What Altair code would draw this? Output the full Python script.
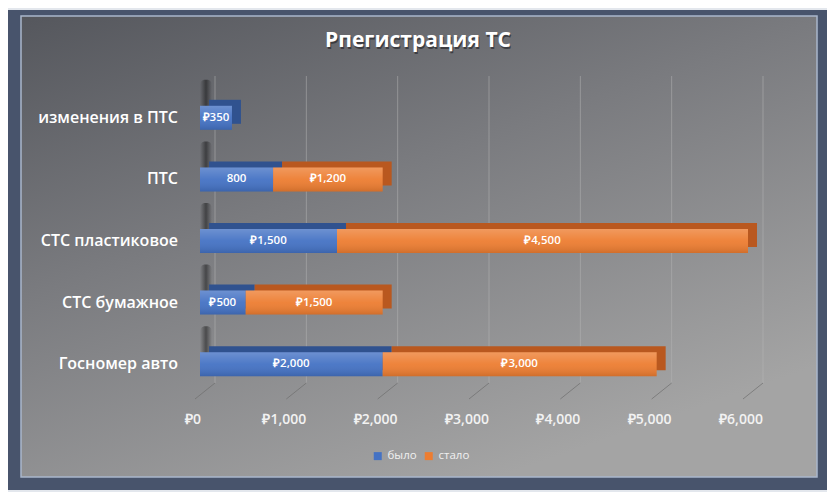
import altair as alt
import pandas as pd

categories = ["изменения в ПТС", "ПТС", "СТС пластиковое", "СТС бумажное", "Госномер авто"]
bylo = [350, 800, 1500, 500, 2000]
stalo = [0, 1200, 4500, 1500, 3000]
bylo_labels = ["₽350", "800", "₽1,500", "₽500", "₽2,000"]
stalo_labels = ["", "₽1,200", "₽4,500", "₽1,500", "₽3,000"]
series_names = ["было", "стало"]
x_ticks = [0, 1000, 2000, 3000, 4000, 5000, 6000]
x_tick_labels = ["₽0", "₽1,000", "₽2,000", "₽3,000", "₽4,000", "₽5,000", "₽6,000"]
title_text = "Рпегистрация ТС"

FONT = "Open Sans"

rows = []
for i, c in enumerate(categories):
    if bylo[i] > 0:
        rows.append({"cat": c, "series": "было", "start": 0, "end": bylo[i],
                     "mid": bylo[i] / 2, "label": bylo_labels[i], "ord": 0})
    if stalo[i] > 0:
        rows.append({"cat": c, "series": "стало", "start": bylo[i], "end": bylo[i] + stalo[i],
                     "mid": bylo[i] + stalo[i] / 2, "label": stalo_labels[i], "ord": 1})
df = pd.DataFrame(rows)
ticks_df = pd.DataFrame({"t": x_ticks, "lab": x_tick_labels})
cats_df = pd.DataFrame({"cat": categories})
one = pd.DataFrame({"k": [0]})

W, H = 548, 308

xscale = alt.Scale(domain=[0, 6000], nice=False, zero=True)
yscale = alt.Scale(domain=categories, paddingInner=0, paddingOuter=0)

frame = alt.Chart(one).mark_rect(color="#48546c").encode(
    x=alt.value(-193), x2=alt.value(627), y=alt.value(-77), y2=alt.value(403)
)

inner = alt.Chart(one).mark_rect(
    color=alt.Gradient(
        gradient="linear",
        stops=[alt.GradientStop(color="#55575d", offset=0),
               alt.GradientStop(color="#7a7b7f", offset=0.45),
               alt.GradientStop(color="#a4a4a4", offset=1)],
        x1=0, y1=0, x2=0.6, y2=1),
    stroke="#a9b6cb", strokeWidth=1.5
).encode(x=alt.value(-179), x2=alt.value(617), y=alt.value(-71), y2=alt.value(390))

wall = alt.Chart(ticks_df).mark_rule(color="#b8b8b8", strokeWidth=1, opacity=0.5, xOffset=15, x2Offset=15).encode(
    x=alt.X("t:Q", scale=xscale, axis=None), x2="t:Q", y=alt.value(-11), y2=alt.value(296)
)
floor = alt.Chart(ticks_df).mark_rule(color="#6e6e6e", strokeWidth=1, opacity=0.7, xOffset=-5, x2Offset=15).encode(
    x=alt.X("t:Q", scale=xscale, axis=None), x2="t:Q", y=alt.value(312), y2=alt.value(296)
)

xlabels = alt.Chart(ticks_df).mark_text(
    color="#f2f2f2", fontSize=14, fontWeight=600, font=FONT, xOffset=-7
).encode(x=alt.X("t:Q", scale=xscale, axis=None), y=alt.value(333), text="lab:N")

ylabels = alt.Chart(cats_df).mark_text(
    color="#ffffff", fontSize=16, fontWeight=600, font=FONT, align="right"
).encode(y=alt.Y("cat:N", scale=yscale, axis=None), x=alt.value(-22), text="cat:N")

shadow = alt.Chart(cats_df).mark_rect(
    color=alt.Gradient(
        gradient="linear",
        stops=[alt.GradientStop(color="rgba(0,0,0,0)", offset=0),
               alt.GradientStop(color="rgba(0,0,0,0.45)", offset=0.5),
               alt.GradientStop(color="rgba(0,0,0,0)", offset=1)],
        x1=0, y1=0, x2=1, y2=0),
    cornerRadius=5, yOffset=-8, y2Offset=-38, xOffset=0, x2Offset=12
).encode(
    y=alt.Y("cat:N", scale=yscale, bandPosition=0.5, axis=None),
    y2=alt.Y2("cat:N", bandPosition=0.5),
    x=alt.value(0), x2=alt.value(0)
)

back = alt.Chart(df).mark_bar(size=24, xOffset=9, yOffset=-6, x2Offset=9).encode(
    x=alt.X("start:Q", scale=xscale, axis=None),
    x2="end:Q",
    y=alt.Y("cat:N", scale=yscale, axis=None),
    color=alt.condition("datum.series == 'было'", alt.value("#30528f"), alt.value("#b9581f")),
    order=alt.Order("ord:Q"),
)

front = alt.Chart(df).mark_bar(size=24).encode(
    x=alt.X("start:Q", scale=xscale, axis=None),
    x2="end:Q",
    y=alt.Y("cat:N", scale=yscale, axis=None),
    color=alt.Color("series:N", scale=alt.Scale(domain=series_names, range=["#4472c4", "#ed7d31"]),
                    legend=alt.Legend(title=None, orient="none", legendX=172, legendY=363,
                                      direction="horizontal", symbolType="square",
                                      symbolSize=64, labelColor="#f0f0f0", labelFontSize=11.5,
                                      labelFont=FONT, columnPadding=6, symbolStrokeWidth=0)),
)

shine = alt.Chart(df).mark_bar(
    size=24,
    color=alt.Gradient(
        gradient="linear",
        stops=[alt.GradientStop(color="rgba(255,255,255,0.22)", offset=0),
               alt.GradientStop(color="rgba(255,255,255,0.05)", offset=0.5),
               alt.GradientStop(color="rgba(0,0,0,0.12)", offset=1)],
        x1=0, y1=0, x2=0, y2=1)
).encode(x=alt.X("start:Q", scale=xscale, axis=None), x2="end:Q",
         y=alt.Y("cat:N", scale=yscale, axis=None))

labels = alt.Chart(df).mark_text(color="#ffffff", fontSize=11.5, fontWeight=600, font=FONT).encode(
    x=alt.X("mid:Q", scale=xscale, axis=None), y=alt.Y("cat:N", scale=yscale, axis=None), text="label:N"
)

title_shadow = alt.Chart(one).mark_text(
    text=title_text, fontSize=21, fontWeight="bold", font=FONT, color="#1e1e22", opacity=0.6,
    xOffset=1, yOffset=1.5
).encode(x=alt.value(218), y=alt.value(-46))
title = alt.Chart(one).mark_text(
    text=title_text, fontSize=21, fontWeight="bold", font=FONT, color="#ffffff"
).encode(x=alt.value(218), y=alt.value(-46))

chart = alt.layer(
    frame, inner, wall, floor, xlabels, ylabels, shadow, back, front, shine, labels, title_shadow, title
).properties(
    width=W, height=H,
    padding={"left": 192, "top": 79, "right": 79, "bottom": 97},
    autosize=alt.AutoSizeParams(type="none"),
    background="#e3e7ed",
).configure_view(stroke=None).configure(font=FONT)

chart.save("out.html", embed_options={"renderer": "svg", "actions": False})
